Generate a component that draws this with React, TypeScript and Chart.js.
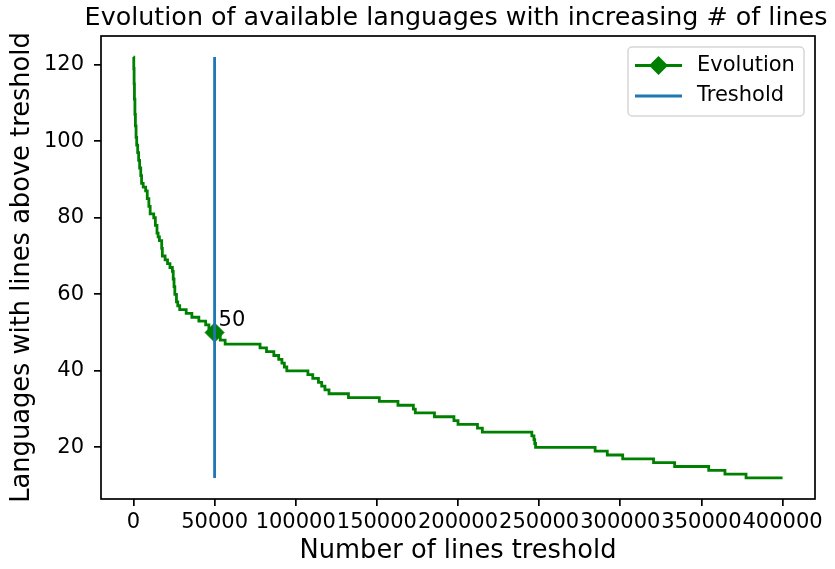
import React, { useEffect, useRef } from 'react';
import { Chart, registerables } from 'chart.js';

Chart.register(...registerables);

const TITLE = 'Evolution of available languages with increasing # of lines';
const X_LABEL = 'Number of lines treshold';
const Y_LABEL = 'Languages with lines above treshold';
const SERIES_LABELS = ['Evolution', 'Treshold'];

const X_TICKS = [0, 50000, 100000, 150000, 200000, 250000, 300000, 350000, 400000];
const Y_TICKS = [20, 40, 60, 80, 100, 120];

// x = threshold where the count starts, y = number of languages above it
const STEP_X = [
  0, 200, 400, 600, 900, 1200, 1600, 2000, 2600, 3200, 3800, 4500, 5000, 6000, 7500, 8500,
  9500, 10300, 12500, 13500, 14500, 15200, 16000, 17400, 17800, 19500, 21000, 22500, 24000,
  24500, 25000, 25500, 26500, 27300, 28500, 32500, 36000, 40300, 44500, 46500, 50000, 51500,
  53500, 56500, 78000, 82000, 86500, 89500, 91500, 93000, 94500, 107500, 110500, 114000,
  116000, 118000, 120500, 132500, 151500, 163000, 172500, 173700, 185500, 197500, 200000,
  212000, 215000, 245500, 246800, 247300, 247800, 284500, 292000, 301500, 320500, 333500,
  354500, 364500, 377500, 400000,
];
const STEP_Y = [
  122, 119, 115, 111, 107, 104, 101, 99, 97, 95, 93, 91, 89, 88, 87, 85,
  83, 81, 80, 78, 76, 75, 74, 72, 70, 69, 68, 67, 66,
  64, 62, 60, 58, 57, 56, 55, 54, 53, 52, 51, 50, 49,
  48, 47, 46, 45, 44, 43, 42, 41, 40, 39, 38, 37,
  36, 35, 34, 33, 32, 31, 30, 29, 28, 27, 26,
  25, 24, 23, 22, 21, 20, 19, 18, 17, 16, 15,
  14, 13, 12, 12,
];

const THRESHOLD = 50000;
const THRESHOLD_VALUE = 50;
const THRESHOLD_LINE_Y = [12, 122];

const GREEN = '#008000';
const BLUE = '#1f77b4';
const FONT = "'DejaVu Sans', sans-serif";

const titlePlugin = {
  id: 'mplTitle',
  afterDraw(chart: any) {
    const { ctx, chartArea: a } = chart;
    ctx.save();
    ctx.font = `25.4px ${FONT}`;
    ctx.fillStyle = '#000';
    ctx.textAlign = 'center';
    ctx.textBaseline = 'alphabetic';
    ctx.fillText(TITLE, (a.left + a.right) / 2 - 2, a.top - 11);
    ctx.restore();
  },
};

const framePlugin = {
  id: 'frame',
  afterDatasetsDraw(chart: any) {
    const { ctx, chartArea: a } = chart;
    ctx.save();
    ctx.strokeStyle = '#000';
    ctx.lineWidth = 1.7;
    ctx.strokeRect(a.left, a.top, a.right - a.left, a.bottom - a.top);
    ctx.restore();
  },
};

const annotPlugin = {
  id: 'annot',
  afterDatasetsDraw(chart: any) {
    const { ctx } = chart;
    const px = chart.scales.x.getPixelForValue(THRESHOLD);
    const py = chart.scales.y.getPixelForValue(THRESHOLD_VALUE);
    ctx.save();
    ctx.font = `21px ${FONT}`;
    ctx.fillStyle = '#000';
    ctx.textAlign = 'left';
    ctx.textBaseline = 'alphabetic';
    ctx.fillText(String(THRESHOLD_VALUE), px + 4, py - 7);
    ctx.restore();
  },
};

const legendPlugin = {
  id: 'mplLegend',
  afterDraw(chart: any) {
    const { ctx, chartArea: a } = chart;
    const w = 176;
    const h = 69;
    const left = a.right - 11 - w;
    const top = a.top + 11;
    ctx.save();
    ctx.beginPath();
    ctx.roundRect(left, top, w, h, 4);
    ctx.fillStyle = 'rgba(255,255,255,0.8)';
    ctx.fill();
    ctx.strokeStyle = '#d6d6d6';
    ctx.lineWidth = 1.5;
    ctx.stroke();
    const ds = chart.data.datasets;
    const rows = [top + 18.5, top + 49];
    ds.forEach((d: any, i: number) => {
      const y = rows[i];
      ctx.beginPath();
      ctx.moveTo(left + 7, y);
      ctx.lineTo(left + 54, y);
      ctx.strokeStyle = d.borderColor;
      ctx.lineWidth = 2.8;
      ctx.stroke();
      if (i === 0) {
        const cx = left + 30.5;
        const r = 9.5;
        ctx.beginPath();
        ctx.moveTo(cx - r, y);
        ctx.lineTo(cx, y - r);
        ctx.lineTo(cx + r, y);
        ctx.lineTo(cx, y + r);
        ctx.closePath();
        ctx.fillStyle = d.borderColor;
        ctx.fill();
      }
      ctx.font = `21px ${FONT}`;
      ctx.fillStyle = '#000';
      ctx.textAlign = 'left';
      ctx.textBaseline = 'middle';
      ctx.fillText(d.label, left + 69, y);
    });
    ctx.restore();
  },
};

export default function App() {
  const ref = useRef<HTMLCanvasElement>(null);

  useEffect(() => {
    const canvas = ref.current!;
    const evo = STEP_X.map((x, i) => ({ x, y: STEP_Y[i] }));
    const thr = THRESHOLD_LINE_Y.map((y) => ({ x: THRESHOLD, y }));
    const tickFont = { family: FONT, size: 21 };
    const labelFont = { family: FONT, size: 25.7 };

    const chart = new Chart(canvas, {
      type: 'line',
      data: {
        datasets: [
          {
            label: SERIES_LABELS[0],
            data: evo,
            borderColor: GREEN,
            backgroundColor: GREEN,
            borderWidth: 2.8,
            stepped: true,
            pointStyle: 'rectRot',
            pointRadius: (c: any) => (c.raw && c.raw.x === THRESHOLD ? 9.5 : 0),
            pointBorderWidth: 1,
            pointBorderColor: GREEN,
            pointBackgroundColor: GREEN,
            order: 1,
          } as any,
          {
            label: SERIES_LABELS[1],
            data: thr,
            borderColor: BLUE,
            backgroundColor: BLUE,
            borderWidth: 2.8,
            pointRadius: 0,
            order: 0,
          } as any,
        ],
      },
      options: {
        responsive: false,
        animation: false,
        devicePixelRatio: 1,
        layout: { padding: { left: 0, right: 20, top: 36, bottom: 0 } },
        plugins: {
          legend: { display: false },
          tooltip: { enabled: false },
          title: { display: false },
        },
        scales: {
          x: {
            type: 'linear',
            min: -20000,
            max: 420000,
            afterBuildTicks: (s: any) => {
              s.ticks = X_TICKS.map((v) => ({ value: v }));
            },
            afterFit: (s: any) => {
              s.height = 70;
            },
            ticks: {
              autoSkip: false,
              maxRotation: 0,
              minRotation: 0,
              color: '#000',
              font: tickFont,
              padding: 4,
              callback: (v: any) => String(v),
            },
            grid: {
              drawOnChartArea: false,
              drawTicks: true,
              tickLength: 7,
              color: '#000',
              lineWidth: 1.7,
            },
            border: { display: false },
            title: {
              display: true,
              text: X_LABEL,
              color: '#000',
              font: labelFont,
              padding: { top: 0, bottom: 2 },
            },
          },
          y: {
            type: 'linear',
            min: 6.5,
            max: 127.5,
            afterBuildTicks: (s: any) => {
              s.ticks = Y_TICKS.map((v) => ({ value: v }));
            },
            afterFit: (s: any) => {
              s.width = 101;
            },
            ticks: {
              color: '#000',
              font: tickFont,
              padding: 10,
              callback: (v: any) => String(v),
            },
            grid: {
              drawOnChartArea: false,
              drawTicks: true,
              tickLength: 7,
              color: '#000',
              lineWidth: 1.7,
            },
            border: { display: false },
            title: {
              display: true,
              text: Y_LABEL,
              color: '#000',
              font: labelFont,
              padding: { top: 7, bottom: 0 },
            },
          },
        },
      } as any,
      plugins: [framePlugin, annotPlugin, legendPlugin, titlePlugin],
    });
    return () => chart.destroy();
  }, []);

  return (
    <div style={{ position: 'fixed', left: 0, top: 0, width: 835, height: 569, background: '#fff' }}>
      <canvas ref={ref} width={835} height={569} style={{ display: 'block' }} />
    </div>
  );
}
